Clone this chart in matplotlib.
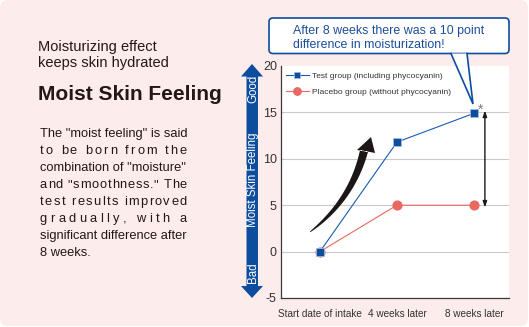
import matplotlib
matplotlib.use('Agg')
import matplotlib.pyplot as plt
from matplotlib.patches import FancyBboxPatch, Polygon
from matplotlib.lines import Line2D
from matplotlib.transforms import Affine2D
from matplotlib import font_manager
from matplotlib.font_manager import FontProperties, findfont, get_font
import numpy as np

# ---------------- data ----------------
categories = ["Start date of intake", "4 weeks later", "8 weeks later"]
test_values = [0, 11.8, 14.9]
placebo_values = [0, 5.0, 5.0]
y_ticks = [-5, 0, 5, 10, 15, 20]
test_label = "Test group (including phycocyanin)"
placebo_label = "Placebo group (without phycocyanin)"

header_lines = ["Moisturizing effect", "keeps skin hydrated"]
title_text = "Moist Skin Feeling"
body_lines = ['The "moist feeling" is said',
              'to be born from the',
              'combination of "moisture"',
              'and "smoothness." The',
              'test results improved',
              'gradually, with a',
              'significant difference after',
              '8 weeks.']
callout_lines = ["After 8 weeks there was a 10 point",
                 "difference in moisturization!"]

# ---------------- setup ----------------
W, H = 529, 327
fig = plt.figure(figsize=(W / 100, H / 100), dpi=100)
fig.patch.set_facecolor('white')
pix = Affine2D().scale(1 / W, -1 / H).translate(0, 1) + fig.transFigure

available = {f.name for f in font_manager.fontManager.ttflist}
NARROW = ['Liberation Sans Narrow', 'Liberation Sans'] if 'Liberation Sans Narrow' in available else ['Liberation Sans']
SANS = ['Liberation Sans', 'DejaVu Sans']

BLUE = '#0c4d9e'
RED = '#e8695f'
DARK = '#231815'
PINK = '#fcecec'

# background rounded panel
bg = FancyBboxPatch((0, 0), 528, 326, boxstyle='round,pad=0,rounding_size=8',
                    transform=pix, facecolor=PINK, edgecolor='none', zorder=-5)
fig.patches.append(bg)

# ---------------- left text ----------------
for i, line in enumerate(header_lines):
    fig.text(38 / W, 1 - (47 + 16.5 * i) / H, line, family=SANS, fontsize=10.5,
             color=DARK, va='center', ha='left')
fig.text(38 / W, 1 - 95 / H, title_text, family=NARROW, fontsize=15.0,
         fontweight='bold', color=DARK, va='center', ha='left')

BODY_SIZE = 9.3
_font = get_font(findfont(FontProperties(family=SANS)))
_font.set_size(BODY_SIZE, 100)


def advances(s):
    adv = []
    for ch in s:
        g = _font.load_char(ord(ch))
        adv.append(g.linearHoriAdvance / 65536.0)
    return adv


def put(s, xpx, ybase):
    fig.text(xpx / W, 1 - ybase / H, s, family=SANS, fontsize=BODY_SIZE,
             color=DARK, va='baseline', ha='left')


def body_line(line, x0, x1, ybase, last=False):
    adv = advances(line)
    extra = (x1 - x0) - sum(adv)
    if last or extra / (len(line) - 1) < 0.45:
        put(line, x0, ybase)
        return
    gap = extra / (len(line) - 1)
    x = x0
    for ch, a in zip(line, adv):
        if ch != ' ':
            put(ch, x, ybase)
        x += a + gap


for i, line in enumerate(body_lines):
    body_line(line, 40, 187, 137 + 17 * i, last=(i == len(body_lines) - 1))

# ---------------- axes ----------------
ax = fig.add_axes([281 / W, 1 - 298 / H, (509 - 281) / W, (298 - 66) / H])
ax.set_zorder(1)
ax.set_facecolor('white')
x = np.arange(len(categories))
ax.set_xlim(-0.506, 2.455)
ax.set_ylim(-5, 20)
ax.set_yticks(y_ticks)
ax.set_yticklabels([str(v) for v in y_ticks], family=NARROW, fontsize=9, color='#333333')
ax.set_xticks(x)
ax.set_xticklabels(categories, family=NARROW, fontsize=7.2, color='#333333')
ax.tick_params(length=0, pad=3)
ax.tick_params(axis='x', pad=8)
for s in ['top', 'right']:
    ax.spines[s].set_visible(False)
for s in ['left', 'bottom']:
    ax.spines[s].set_color('#3a3a3a')
    ax.spines[s].set_linewidth(0.9)
for v in y_ticks:
    if -5 < v < 20:
        ax.axhline(v, color='#c9c9c9', lw=0.8, zorder=1)

ax.plot(x, placebo_values, color=RED, lw=0.8, marker='o', ms=6.3, mfc=RED, mec=RED,
        zorder=3, label=placebo_label)
ax.plot(x, test_values, color='#1a5cb0', lw=0.8, marker='s', ms=6.0, mfc=BLUE,
        mec='#9fbbe0', mew=0.6, zorder=4, label=test_label)

h_test = Line2D([], [], color='#1a5cb0', lw=0.8, marker='s', ms=4.8, mfc=BLUE, mec='#9fbbe0', mew=0.5)
h_plac = Line2D([], [], color=RED, lw=0.8, marker='o', ms=5.3, mfc=RED, mec=RED)
leg = ax.legend([h_test, h_plac], [test_label, placebo_label], loc='upper left',
                bbox_to_anchor=(284 / W, 1 - 70 / H), bbox_transform=fig.transFigure,
                frameon=False, prop={'family': NARROW, 'size': 6.0},
                handlelength=2.8, handletextpad=0.35, labelspacing=1.0,
                borderaxespad=0, borderpad=0.2)
for t in leg.get_texts():
    t.set_color('#333333')

# significance double arrow and asterisk
ax.annotate('', xy=(2.142, 4.75), xytext=(2.142, 15.2),
            arrowprops=dict(arrowstyle='<|-|>,head_length=0.35,head_width=0.12',
                            color='#1a1a1a', lw=1, shrinkA=0, shrinkB=0), zorder=5)
ax.text(2.09, 15.25, '*', fontsize=10, color='#777777', ha='center', va='center',
        family=SANS, zorder=6)

# ---------------- Good/Bad arrow ----------------
arrow_pts = [(252, 64), (263, 76.5), (258, 76.5), (258, 286), (263, 286), (252, 298),
             (241, 286), (246.5, 286), (246.5, 76.5), (241, 76.5)]
fig.patches.append(Polygon(arrow_pts, closed=True, transform=pix, facecolor=BLUE,
                           edgecolor='none', zorder=2))
fig.text(253 / W, 1 - 89 / H, 'Good', rotation=90, color='white', fontsize=8.3,
         family=SANS, ha='center', va='center', zorder=3)
fig.text(253 / W, 1 - 180 / H, 'Moist Skin Feeling', rotation=90, color='white',
         fontsize=8.3, family=SANS, ha='center', va='center', zorder=3)
fig.text(253 / W, 1 - 273 / H, 'Bad', rotation=90, color='white', fontsize=8.3,
         family=SANS, ha='center', va='center', zorder=3)

# ---------------- curved black arrow ----------------
P0 = np.array([310.0, 232.0]); P1 = np.array([352.0, 200.0]); P2 = np.array([364.0, 151.0])
tt = np.linspace(0, 1, 40)
pts = ((1 - tt)[:, None] ** 2) * P0 + (2 * (1 - tt) * tt)[:, None] * P1 + (tt[:, None] ** 2) * P2
d = np.gradient(pts, axis=0)
nrm = np.stack([-d[:, 1], d[:, 0]], axis=1)
nrm /= np.linalg.norm(nrm, axis=1)[:, None]
wid = 0.3 + 3.8 * tt ** 0.7
left = pts + nrm * wid[:, None]
right = pts - nrm * wid[:, None]
shape = list(map(tuple, left)) + [(357, 150), (371, 137), (375, 153)] + list(map(tuple, right[::-1]))
fig.patches.append(Polygon(shape, closed=True, transform=pix, facecolor='#1c1716',
                           edgecolor='none', zorder=5))

# ---------------- callout ----------------
box = FancyBboxPatch((269, 18), 240, 35.5, boxstyle='round,pad=0,rounding_size=4',
                     transform=pix, facecolor='white', edgecolor=BLUE, lw=1.2, zorder=6)
fig.patches.append(box)
ptr = Polygon([(451, 53.5), (473, 104), (467, 53.5)], closed=True, transform=pix,
              facecolor='white', edgecolor='none', zorder=7)
fig.patches.append(ptr)
fig.lines.append(Line2D([451, 473, 467], [53.5, 104, 53.5], transform=pix, color=BLUE,
                        lw=1.2, zorder=8, solid_joinstyle='miter'))
for i, line in enumerate(callout_lines):
    fig.text(293 / W, 1 - (31 + 13.5 * i) / H, line, family=SANS, fontsize=8.9,
             color='#1a4f9c', ha='left', va='center', zorder=9)

fig.savefig('out.png', dpi=100, facecolor='white')
